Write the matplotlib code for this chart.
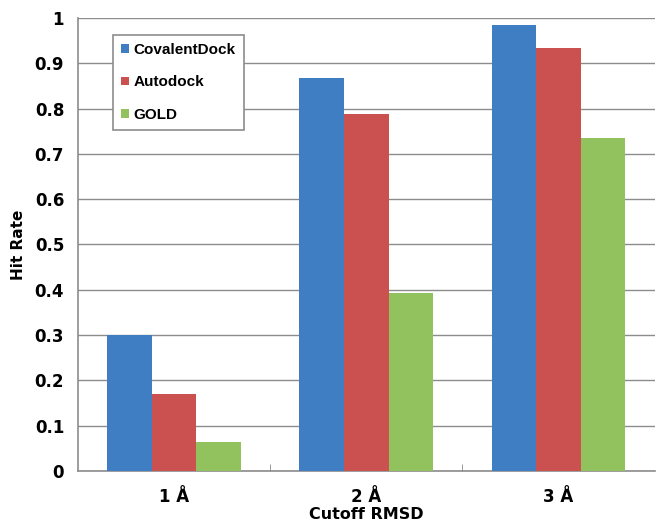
import matplotlib.pyplot as plt
import numpy as np

categories = ['1 Å', '2 Å', '3 Å']
series = ['CovalentDock', 'Autodock', 'GOLD']
covalentdock = [0.30, 0.868, 0.985]
autodock = [0.17, 0.787, 0.933]
gold = [0.065, 0.393, 0.735]
colors = ['#3f7ec3', '#cb5150', '#92c25d']

fig = plt.figure(figsize=(6.56, 5.26), dpi=100)
ax = fig.add_axes([0.119, 0.1046, 0.879, 0.8612])

x = np.arange(len(categories))
w = 0.232
for i, (name, vals) in enumerate(zip(series, [covalentdock, autodock, gold])):
    ax.bar(x + (i - 1) * w, vals, w, color=colors[i], label=name, zorder=3)

ax.set_xlim(-0.5, 2.5)
ax.set_ylim(0, 1)
ax.set_yticks(np.arange(0, 1.01, 0.1))
ax.set_yticklabels(['0', '0.1', '0.2', '0.3', '0.4', '0.5', '0.6', '0.7', '0.8', '0.9', '1'])
ax.set_xticks(x)
ax.set_xticklabels(categories)
ax.set_xticks([0.5, 1.5], minor=True)
ax.tick_params(axis='x', which='major', length=0, pad=12)
ax.tick_params(axis='x', which='minor', direction='in', length=5, color='#888888')
ax.tick_params(axis='y', length=0, pad=10)
for lab in ax.get_xticklabels() + ax.get_yticklabels():
    lab.set_fontweight('bold')
    lab.set_fontsize(12)

ax.grid(axis='y', color='#8c8c8c', linewidth=1.0, zorder=0)
for s in ['top', 'right']:
    ax.spines[s].set_visible(False)
for s in ['left', 'bottom']:
    ax.spines[s].set_color('#8c8c8c')
    ax.spines[s].set_linewidth(1.2)

ax.set_ylabel('Hit Rate', fontsize=11, fontweight='semibold', labelpad=6)
ax.set_xlabel('Cutoff RMSD', fontsize=11.5, fontweight='semibold', labelpad=1)

leg = ax.legend(loc='upper left', bbox_to_anchor=(0.06, 0.963), fancybox=False,
                frameon=True, handlelength=0.5, handleheight=0.5, handletextpad=0.3,
                labelspacing=1.2, borderpad=0.55, borderaxespad=0,
                prop={'family': 'Liberation Sans', 'weight': 'bold', 'size': 11})
leg.get_frame().set_edgecolor('#8c8c8c')
leg.get_frame().set_linewidth(1.2)
leg.get_frame().set_alpha(1)

fig.savefig('out.png', dpi=100)
